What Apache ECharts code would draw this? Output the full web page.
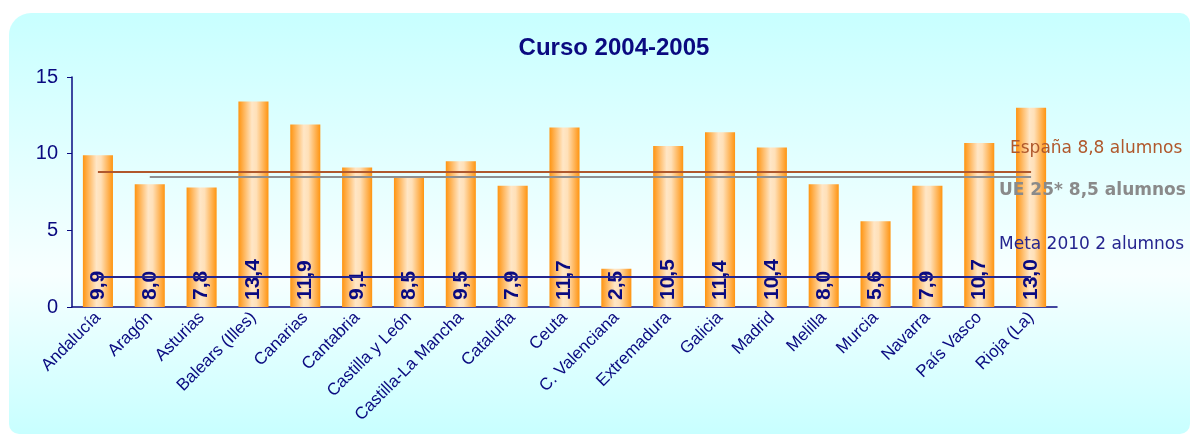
<!DOCTYPE html>
<html>
<head>
<meta charset="utf-8">
<script src="https://cdn.jsdelivr.net/npm/echarts@6/dist/echarts.min.js"></script>
<style>
  html, body { margin: 0; padding: 0; background: #fff; }
  #chart { width: 1191px; height: 435px; }
</style>
</head>
<body>
<div id="chart"></div>
<script>
// Ratio alumnos / profesor por comunidad, curso 2004-2005
const regions = ["Andalucía", "Aragón", "Asturias", "Balears (Illes)", "Canarias", "Cantabria",
  "Castilla y León", "Castilla-La Mancha", "Cataluña", "Ceuta", "C. Valenciana", "Extremadura",
  "Galicia", "Madrid", "Melilla", "Murcia", "Navarra", "País Vasco", "Rioja (La)"];
const ratios = [9.9, 8.0, 7.8, 13.4, 11.9, 9.1, 8.5, 9.5, 7.9, 11.7, 2.5, 10.5, 11.4, 10.4, 8.0, 5.6, 7.9, 10.7, 13.0];

// reference lines: value, first category, label
const refNames = ["España 8,8 alumnos", "UE 25* 8,5 alumnos", "Meta 2010 2 alumnos"];
const refValues = [8.8, 8.5, 2];
const refStart = ["Andalucía", "Aragón", "Andalucía"];
const yTicks = [0, 5, 10, 15];

const navy = "#0a0a80";
const refColors = ["#b0582c", "#8f8f8f", "#25258f"];

var chart = echarts.init(document.getElementById("chart"));

const fmt = (v) => v.toFixed(1).replace(".", ",");

var option = {
  animation: false,
  graphic: [
    {
      type: "rect",
      z: -10,
      shape: { x: 9, y: 13, width: 1181, height: 421, r: [22, 10, 10, 10] },
      style: {
        fill: {
          type: "linear", x: 0, y: 0, x2: 0, y2: 1,
          colorStops: [
            { offset: 0, color: "#c8ffff" },
            { offset: 0.62, color: "#f7ffff" },
            { offset: 1, color: "#c8ffff" },
          ],
        },
      },
    },
    {
      type: "text", left: 1010, top: 140, z: 100,
      style: { text: refNames[0], fill: refColors[0], font: "17px 'DejaVu Sans'" },
    },
    {
      type: "text", left: 999, top: 182, z: 100,
      style: { text: refNames[1], fill: "#8a8a8a", font: "bold 17px 'DejaVu Sans'" },
    },
    {
      type: "text", left: 999, top: 236, z: 100,
      style: { text: refNames[2], fill: refColors[2], font: "17px 'DejaVu Sans'" },
    },
  ],
  title: {
    text: "Curso 2004-2005",
    left: 609,
    top: 31,
    textAlign: "center",
    textStyle: { color: navy, fontSize: 24, fontWeight: "bold", fontFamily: "Liberation Sans" },
  },
  grid: { left: 72, right: 134, top: 77, bottom: 128 },
  xAxis: {
    type: "category",
    data: regions,
    axisLine: { lineStyle: { color: navy, width: 1.5 } },
    axisTick: { length: 5, lineStyle: { color: navy } },
    axisLabel: {
      rotate: 45,
      interval: 0,
      color: navy,
      fontSize: 17,
      fontFamily: "Liberation Sans",
      margin: 8,
    },
  },
  yAxis: {
    type: "value",
    min: yTicks[0],
    max: yTicks[yTicks.length - 1],
    interval: 5,
    splitLine: { show: false },
    axisLine: { show: true, lineStyle: { color: navy, width: 1.5 } },
    axisTick: { show: true, length: 5, lineStyle: { color: navy } },
    axisLabel: { color: navy, fontSize: 20, fontFamily: "Liberation Sans", margin: 14 },
  },
  series: [
    {
      type: "bar",
      data: ratios,
      barWidth: "58%",
      itemStyle: {
        color: {
          type: "linear", x: 0, y: 0, x2: 1, y2: 0,
          colorStops: [
            { offset: 0, color: "#ff9410" },
            { offset: 0.45, color: "#ffe6c6" },
            { offset: 0.6, color: "#ffe0b8" },
            { offset: 1, color: "#ff9410" },
          ],
        },
      },
      label: {
        show: true,
        position: "insideBottom",
        rotate: 90,
        align: "left",
        verticalAlign: "middle",
        distance: 7,
        color: navy,
        fontSize: 21,
        fontWeight: "bold",
        fontFamily: "Liberation Sans",
        formatter: (p) => fmt(p.value),
      },
      markLine: {
        silent: true,
        symbol: "none",
        label: { show: false },
        data: refValues.map((v, i) => [
          { coord: [refStart[i], v], lineStyle: { color: refColors[i], width: 2, type: "solid" } },
          { coord: [regions[regions.length - 1], v] },
        ]),
      },
    },
  ],
};
chart.setOption(option);
</script>
</body>
</html>
